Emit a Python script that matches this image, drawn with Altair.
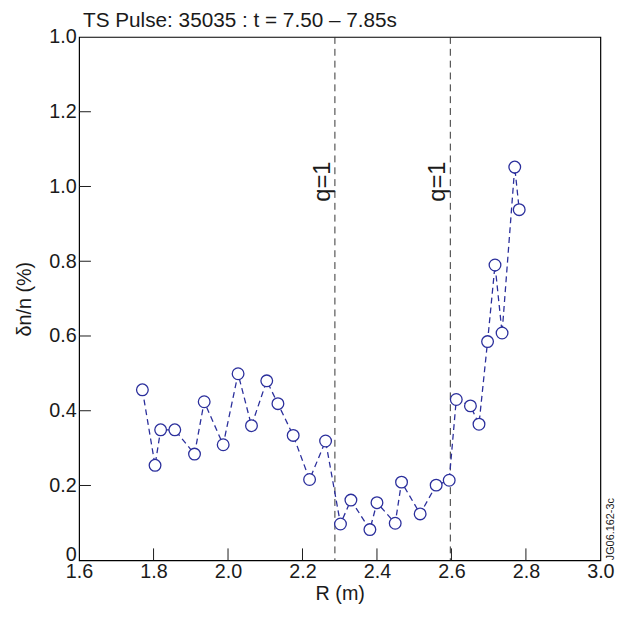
import altair as alt
import pandas as pd

# Data
R = [1.770, 1.804, 1.819, 1.857, 1.910, 1.936, 1.987, 2.027, 2.063, 2.104,
     2.134, 2.175, 2.219, 2.262, 2.302, 2.330, 2.381, 2.400, 2.449, 2.466,
     2.516, 2.559, 2.594, 2.613, 2.651, 2.674, 2.697, 2.717, 2.736, 2.770, 2.782]
V = [0.456, 0.254, 0.349, 0.349, 0.284, 0.424, 0.309, 0.499, 0.360, 0.480,
     0.419, 0.334, 0.216, 0.319, 0.097, 0.161, 0.082, 0.154, 0.099, 0.209,
     0.124, 0.201, 0.214, 0.430, 0.413, 0.364, 0.585, 0.790, 0.608, 1.052, 0.938]
Q_R = [2.287, 2.597]
Q_LABELS = ["q=1", "q=1"]
X_TICKS = [1.6, 1.8, 2.0, 2.2, 2.4, 2.6, 2.8, 3.0]
Y_TICKS = [0, 0.2, 0.4, 0.6, 0.8, 1.0, 1.2, 1.4]
X_INNER = [1.8, 2.0, 2.2, 2.4, 2.6, 2.8]
Y_INNER = [0.2, 0.4, 0.6, 0.8, 1.0, 1.2]
TITLE = "TS Pulse: 35035 : t = 7.50 \u2013 7.85s"
CODE = "JG06.162-3c"

W, H = 528, 530
BLUE = "#2b2f9c"
INK = "#1a1a1a"
FONT = "Liberation Sans"

df = pd.DataFrame({"R": R, "V": V})
qdf = pd.DataFrame({"R": Q_R, "label": Q_LABELS})
xt = pd.DataFrame({"x": X_INNER})
yt = pd.DataFrame({"y": Y_INNER})

xscale = alt.Scale(domain=[1.6, 3.0], nice=False, zero=False)
yscale = alt.Scale(domain=[0, 1.4], nice=False, zero=False)

xaxis = alt.Axis(values=X_TICKS, format=".1f", domain=False, ticks=False, grid=False,
                 labelFont=FONT, labelFontSize=20, labelColor=INK, labelPadding=1,
                 labelFlush=False, labelOverlap=False,
                 title="R (m)", titleFont=FONT, titleFontSize=20, titleFontWeight="normal",
                 titleColor=INK, titleY=40, titleBaseline="alphabetic")
yaxis = alt.Axis(values=Y_TICKS, domain=False, ticks=False, grid=False,
                 labelExpr="abs(datum.value - 1.4) < 1e-6 ? '1.0' : (datum.value == 0 ? '0' : format(datum.value, '.1f'))",
                 labelBaseline={"condition": {"test": "datum.value == 0", "value": "alphabetic"}, "value": "middle"},
                 labelFont=FONT, labelFontSize=20, labelColor=INK, labelPadding=3,
                 labelFlush=False, labelOverlap=False,
                 title="\u03b4n/n (%)", titleFont=FONT, titleFontSize=20, titleFontWeight="normal",
                 titleColor=INK, titleX=-55, titleY=265, titleAlign="center", titleBaseline="middle",
                 titleAngle=-90)

base = alt.Chart(df)

line = base.mark_line(color=BLUE, strokeWidth=1.3, strokeDash=[6, 4]).encode(
    x=alt.X("R:Q", scale=xscale, axis=xaxis),
    y=alt.Y("V:Q", scale=yscale, axis=yaxis),
)
points = base.mark_point(shape="circle", filled=True, fill="white", stroke=BLUE,
                         strokeWidth=1.3, size=140, opacity=1).encode(
    x=alt.X("R:Q", scale=xscale),
    y=alt.Y("V:Q", scale=yscale),
)

qlines = alt.Chart(qdf).mark_rule(color="#333333", strokeWidth=1, strokeDash=[7, 5]).encode(
    x=alt.X("R:Q", scale=xscale),
)
qtext = alt.Chart(qdf).mark_text(angle=270, align="center", baseline="bottom", dx=-6,
                                 font=FONT, fontSize=24, color=INK).encode(
    x=alt.X("R:Q", scale=xscale),
    y=alt.value(140.5),
    text="label:N",
)

xticks = alt.Chart(xt).mark_rule(color=INK, strokeWidth=1).encode(
    x=alt.X("x:Q", scale=xscale), y=alt.value(H), y2=alt.value(H - 12)
)
yticks = alt.Chart(yt).mark_rule(color=INK, strokeWidth=1).encode(
    y=alt.Y("y:Q", scale=yscale), x=alt.value(0), x2=alt.value(12)
)

title = alt.Chart(pd.DataFrame({"t": [TITLE]})).mark_text(
    align="left", baseline="alphabetic", font=FONT, fontSize=21, color=INK
).encode(x=alt.value(4), y=alt.value(-10), text="t:N")

code = alt.Chart(pd.DataFrame({"t": [CODE]})).mark_text(
    angle=270, align="left", baseline="middle", font=FONT, fontSize=11, color=INK
).encode(x=alt.value(539), y=alt.value(H), text="t:N")

chart = alt.layer(qlines, xticks, yticks, line, points, qtext, title, code).properties(
    width=W, height=H,
    autosize=alt.AutoSizeParams(type="none"),
    padding={"left": 72, "top": 25.5, "right": 30, "bottom": 44},
).configure_view(stroke="black", strokeWidth=1.2)

chart.save("out.html", embed_options={"renderer": "svg", "actions": False})
